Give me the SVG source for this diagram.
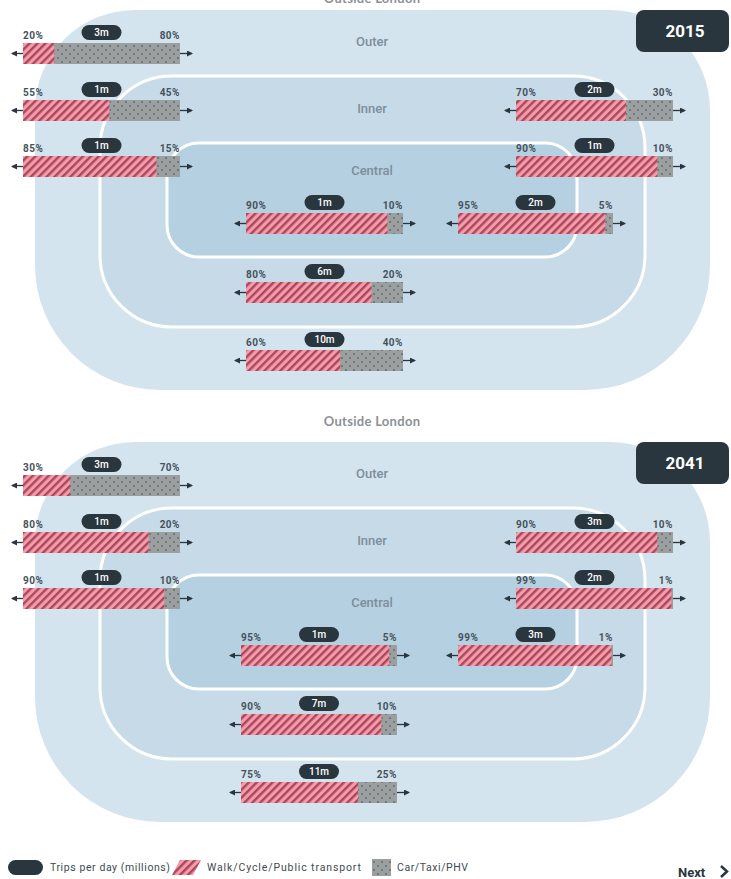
<svg xmlns="http://www.w3.org/2000/svg" width="731" height="879" viewBox="0 0 731 879">
<defs>
  <pattern id="hatch" width="5.6" height="5.6" patternUnits="userSpaceOnUse" patternTransform="rotate(45)">
    <rect width="5.6" height="5.6" fill="#f59ca8"/>
    <rect width="2.4" height="5.6" fill="#a9475e"/>
  </pattern>
  <pattern id="dots" width="8" height="8" patternUnits="userSpaceOnUse">
    <rect width="8" height="8" fill="#9c9fa0"/>
    <circle cx="2" cy="2" r="1.1" fill="#667273"/>
    <circle cx="6" cy="6" r="1.1" fill="#667273"/>
  </pattern>
  <marker id="ah" markerWidth="6" markerHeight="6" refX="5" refY="3" orient="auto" markerUnits="userSpaceOnUse">
    <path d="M0,0 L6,3 L0,6 z" fill="#2a363e"/>
  </marker>
  <style>
    .outer{fill:#d4e4ef}
    .inner{fill:#c6dae8;stroke:#fff;stroke-width:3}
    .central{fill:#b4d0e1;stroke:#fff;stroke-width:3}
    .zone{font-family:Roboto,"Liberation Sans",sans-serif;font-size:13px;font-weight:500;fill:#7d8e9a;text-anchor:middle}
    .ol{font-family:Lato,"Liberation Sans",sans-serif;font-size:13px;font-weight:bold;fill:#8c9196;text-anchor:middle;letter-spacing:.3px}
    .pct{font-family:Roboto,"Liberation Sans",sans-serif;font-size:10px;font-weight:bold;fill:#46525a;letter-spacing:.5px}
    .r{text-anchor:end}
    .pill{fill:#2a363e}
    .pt{font-family:Roboto,"Liberation Sans",sans-serif;font-size:10px;font-weight:500;fill:#fff;text-anchor:middle}
    .walk{fill:url(#hatch)}
    .car{fill:url(#dots)}
    .arr{stroke:#2a363e;stroke-width:1.3;fill:none;marker-end:url(#ah)}
    .badge{fill:#2a363e}
    .yr{font-family:Roboto,"Liberation Sans",sans-serif;font-size:17px;font-weight:bold;fill:#fff;text-anchor:middle}
    .leg{font-family:Roboto,"Liberation Sans",sans-serif;font-size:10.5px;fill:#3e4a52}
  </style>
</defs>
<rect width="731" height="879" fill="#fff"/>

<!-- 2015 rings -->
<g id="rings-2015">
  <g id="outer-2015"><path class="outer" d="M135,10 H610 A100,100 0 0 1 710,110 V265 A125,125 0 0 1 585,390 H160 A125,125 0 0 1 35,265 V110 A100,100 0 0 1 135,10 Z"/></g>
  <g id="inner-2015"><rect class="inner" x="100" y="76" width="545" height="251" rx="72"/></g>
  <g id="central-2015"><rect class="central" x="167" y="143" width="410" height="114" rx="32"/></g>
  <text class="ol" x="372" y="3">Outside London</text>
  <text class="zone" x="372" y="46">Outer</text>
  <text class="zone" x="372" y="113">Inner</text>
  <text class="zone" x="372" y="175">Central</text>
</g>
<g id="badge-2015"><rect class="badge" x="636" y="10" width="93" height="42" rx="8"/><text class="yr" x="685" y="37">2015</text></g>

<!-- 2041 rings -->
<g id="rings-2041">
  <g id="outer-2041"><path class="outer" d="M135,442 H610 A100,100 0 0 1 710,542 V697 A125,125 0 0 1 585,822 H160 A125,125 0 0 1 35,697 V542 A100,100 0 0 1 135,442 Z"/></g>
  <g id="inner-2041"><rect class="inner" x="100" y="508" width="545" height="251" rx="72"/></g>
  <g id="central-2041"><rect class="central" x="167" y="575" width="410" height="114" rx="32"/></g>
  <text class="ol" x="372" y="426">Outside London</text>
  <text class="zone" x="372" y="478">Outer</text>
  <text class="zone" x="372" y="545">Inner</text>
  <text class="zone" x="372" y="607">Central</text>
</g>
<g id="badge-2041"><rect class="badge" x="636" y="442" width="93" height="42" rx="8"/><text class="yr" x="685" y="469">2041</text></g>

<!-- 2015 bars -->
<g id="bar-2015-outer-left">
  <rect class="car" x="23" y="43" width="157" height="21"/><rect class="walk" x="23" y="43" width="31.4" height="21"/>
  <text class="pct" x="23" y="39">20%</text><text class="pct r" x="180" y="39">80%</text>
  <rect class="pill" x="81.5" y="25" width="40" height="15" rx="7.5"/><text class="pt" x="101.5" y="36">3m</text>
</g>
<g id="bar-2015-inner-left">
  <rect class="car" x="23" y="100" width="157" height="21"/><rect class="walk" x="23" y="100" width="86.35" height="21"/>
  <text class="pct" x="23" y="96">55%</text><text class="pct r" x="180" y="96">45%</text>
  <rect class="pill" x="81.5" y="82" width="40" height="15" rx="7.5"/><text class="pt" x="101.5" y="93">1m</text>
</g>
<g id="bar-2015-central-left">
  <rect class="car" x="23" y="156" width="157" height="21"/><rect class="walk" x="23" y="156" width="133.45" height="21"/>
  <text class="pct" x="23" y="152">85%</text><text class="pct r" x="180" y="152">15%</text>
  <rect class="pill" x="81.5" y="138" width="40" height="15" rx="7.5"/><text class="pt" x="101.5" y="149">1m</text>
</g>
<g id="bar-2015-inner-right">
  <rect class="car" x="516" y="100" width="157" height="21"/><rect class="walk" x="516" y="100" width="109.9" height="21"/>
  <text class="pct" x="516" y="96">70%</text><text class="pct r" x="673" y="96">30%</text>
  <rect class="pill" x="574.5" y="82" width="40" height="15" rx="7.5"/><text class="pt" x="594.5" y="93">2m</text>
</g>
<g id="bar-2015-central-right">
  <rect class="car" x="516" y="156" width="157" height="21"/><rect class="walk" x="516" y="156" width="141.3" height="21"/>
  <text class="pct" x="516" y="152">90%</text><text class="pct r" x="673" y="152">10%</text>
  <rect class="pill" x="574.5" y="138" width="40" height="15" rx="7.5"/><text class="pt" x="594.5" y="149">1m</text>
</g>
<g id="bar-2015-central-a">
  <rect class="car" x="246" y="213" width="157" height="21"/><rect class="walk" x="246" y="213" width="141.3" height="21"/>
  <text class="pct" x="246" y="209">90%</text><text class="pct r" x="403" y="209">10%</text>
  <rect class="pill" x="304.5" y="195" width="40" height="15" rx="7.5"/><text class="pt" x="324.5" y="206">1m</text>
</g>
<g id="bar-2015-central-b">
  <rect class="car" x="458" y="213" width="155" height="21"/><rect class="walk" x="458" y="213" width="147.25" height="21"/>
  <text class="pct" x="458" y="209">95%</text><text class="pct r" x="613" y="209">5%</text>
  <rect class="pill" x="515.5" y="195" width="40" height="15" rx="7.5"/><text class="pt" x="535.5" y="206">2m</text>
</g>
<g id="bar-2015-inner-bottom">
  <rect class="car" x="246" y="282" width="157" height="21"/><rect class="walk" x="246" y="282" width="125.6" height="21"/>
  <text class="pct" x="246" y="278">80%</text><text class="pct r" x="403" y="278">20%</text>
  <rect class="pill" x="304.5" y="264" width="40" height="15" rx="7.5"/><text class="pt" x="324.5" y="275">6m</text>
</g>
<g id="bar-2015-outer-bottom">
  <rect class="car" x="246" y="350" width="157" height="21"/><rect class="walk" x="246" y="350" width="94.2" height="21"/>
  <text class="pct" x="246" y="346">60%</text><text class="pct r" x="403" y="346">40%</text>
  <rect class="pill" x="304.5" y="332" width="40" height="15" rx="7.5"/><text class="pt" x="324.5" y="343">10m</text>
</g>

<!-- 2041 bars -->
<g id="bar-2041-outer-left">
  <rect class="car" x="23" y="475" width="157" height="21"/><rect class="walk" x="23" y="475" width="47.1" height="21"/>
  <text class="pct" x="23" y="471">30%</text><text class="pct r" x="180" y="471">70%</text>
  <rect class="pill" x="81.5" y="457" width="40" height="15" rx="7.5"/><text class="pt" x="101.5" y="468">3m</text>
</g>
<g id="bar-2041-inner-left">
  <rect class="car" x="23" y="532" width="157" height="21"/><rect class="walk" x="23" y="532" width="125.6" height="21"/>
  <text class="pct" x="23" y="528">80%</text><text class="pct r" x="180" y="528">20%</text>
  <rect class="pill" x="81.5" y="514" width="40" height="15" rx="7.5"/><text class="pt" x="101.5" y="525">1m</text>
</g>
<g id="bar-2041-central-left">
  <rect class="car" x="23" y="588" width="157" height="21"/><rect class="walk" x="23" y="588" width="141.3" height="21"/>
  <text class="pct" x="23" y="584">90%</text><text class="pct r" x="180" y="584">10%</text>
  <rect class="pill" x="81.5" y="570" width="40" height="15" rx="7.5"/><text class="pt" x="101.5" y="581">1m</text>
</g>
<g id="bar-2041-inner-right">
  <rect class="car" x="516" y="532" width="157" height="21"/><rect class="walk" x="516" y="532" width="141.3" height="21"/>
  <text class="pct" x="516" y="528">90%</text><text class="pct r" x="673" y="528">10%</text>
  <rect class="pill" x="574.5" y="514" width="40" height="15" rx="7.5"/><text class="pt" x="594.5" y="525">3m</text>
</g>
<g id="bar-2041-central-right">
  <rect class="car" x="516" y="588" width="157" height="21"/><rect class="walk" x="516" y="588" width="155.4" height="21"/>
  <text class="pct" x="516" y="584">99%</text><text class="pct r" x="673" y="584">1%</text>
  <rect class="pill" x="574.5" y="570" width="40" height="15" rx="7.5"/><text class="pt" x="594.5" y="581">2m</text>
</g>
<g id="bar-2041-central-a">
  <rect class="car" x="241" y="645" width="156" height="21"/><rect class="walk" x="241" y="645" width="148.2" height="21"/>
  <text class="pct" x="241" y="641">95%</text><text class="pct r" x="397" y="641">5%</text>
  <rect class="pill" x="299" y="627" width="40" height="15" rx="7.5"/><text class="pt" x="319" y="638">1m</text>
</g>
<g id="bar-2041-central-b">
  <rect class="car" x="458" y="645" width="155" height="21"/><rect class="walk" x="458" y="645" width="153.45" height="21"/>
  <text class="pct" x="458" y="641">99%</text><text class="pct r" x="613" y="641">1%</text>
  <rect class="pill" x="515.5" y="627" width="40" height="15" rx="7.5"/><text class="pt" x="535.5" y="638">3m</text>
</g>
<g id="bar-2041-inner-bottom">
  <rect class="car" x="241" y="714" width="156" height="21"/><rect class="walk" x="241" y="714" width="140.4" height="21"/>
  <text class="pct" x="241" y="710">90%</text><text class="pct r" x="397" y="710">10%</text>
  <rect class="pill" x="299" y="696" width="40" height="15" rx="7.5"/><text class="pt" x="319" y="707">7m</text>
</g>
<g id="bar-2041-outer-bottom">
  <rect class="car" x="241" y="782" width="156" height="21"/><rect class="walk" x="241" y="782" width="117" height="21"/>
  <text class="pct" x="241" y="778">75%</text><text class="pct r" x="397" y="778">25%</text>
  <rect class="pill" x="299" y="764" width="40" height="15" rx="7.5"/><text class="pt" x="319" y="775">11m</text>
</g>

<!-- connectors: arrows on both ends of each bar -->
<g id="connectors">
  <path class="arr" d="M23,53.5 H12"/><path class="arr" d="M180,53.5 H192"/>
  <path class="arr" d="M23,110.5 H12"/><path class="arr" d="M180,110.5 H192"/>
  <path class="arr" d="M23,166.5 H12"/><path class="arr" d="M180,166.5 H192"/>
  <path class="arr" d="M516,110.5 H505"/><path class="arr" d="M673,110.5 H685"/>
  <path class="arr" d="M516,166.5 H505"/><path class="arr" d="M673,166.5 H685"/>
  <path class="arr" d="M246,223.5 H235"/><path class="arr" d="M403,223.5 H415"/>
  <path class="arr" d="M458,223.5 H447"/><path class="arr" d="M613,223.5 H625"/>
  <path class="arr" d="M246,292.5 H235"/><path class="arr" d="M403,292.5 H415"/>
  <path class="arr" d="M246,360.5 H235"/><path class="arr" d="M403,360.5 H415"/>

  <path class="arr" d="M23,485.5 H12"/><path class="arr" d="M180,485.5 H192"/>
  <path class="arr" d="M23,542.5 H12"/><path class="arr" d="M180,542.5 H192"/>
  <path class="arr" d="M23,598.5 H12"/><path class="arr" d="M180,598.5 H192"/>
  <path class="arr" d="M516,542.5 H505"/><path class="arr" d="M673,542.5 H685"/>
  <path class="arr" d="M516,598.5 H505"/><path class="arr" d="M673,598.5 H685"/>
  <path class="arr" d="M241,655.5 H230"/><path class="arr" d="M397,655.5 H409"/>
  <path class="arr" d="M458,655.5 H447"/><path class="arr" d="M613,655.5 H625"/>
  <path class="arr" d="M241,724.5 H230"/><path class="arr" d="M397,724.5 H409"/>
  <path class="arr" d="M241,792.5 H230"/><path class="arr" d="M397,792.5 H409"/>
</g>

<!-- legend -->
<g id="legend">
  <rect class="pill" x="8" y="860" width="35" height="15" rx="7.5"/>
  <text class="leg" x="50" y="871" textLength="120">Trips per day (millions)</text>
  <path class="walk" d="M180,860 H201 L193,875 H172 Z"/>
  <text class="leg" x="207" y="871" textLength="154">Walk/Cycle/Public transport</text>
  <rect class="car" x="372" y="859" width="19" height="17"/>
  <text class="leg" x="397" y="871" textLength="71">Car/Taxi/PHV</text>
</g>
<g id="next">
  <text x="678" y="877" font-family="Roboto, 'Liberation Sans', sans-serif" font-size="13" font-weight="bold" fill="#2a363e">Next</text>
  <path d="M721,866 L727,871.5 L721,877" fill="none" stroke="#2a363e" stroke-width="2.5"/>
</g>
</svg>
